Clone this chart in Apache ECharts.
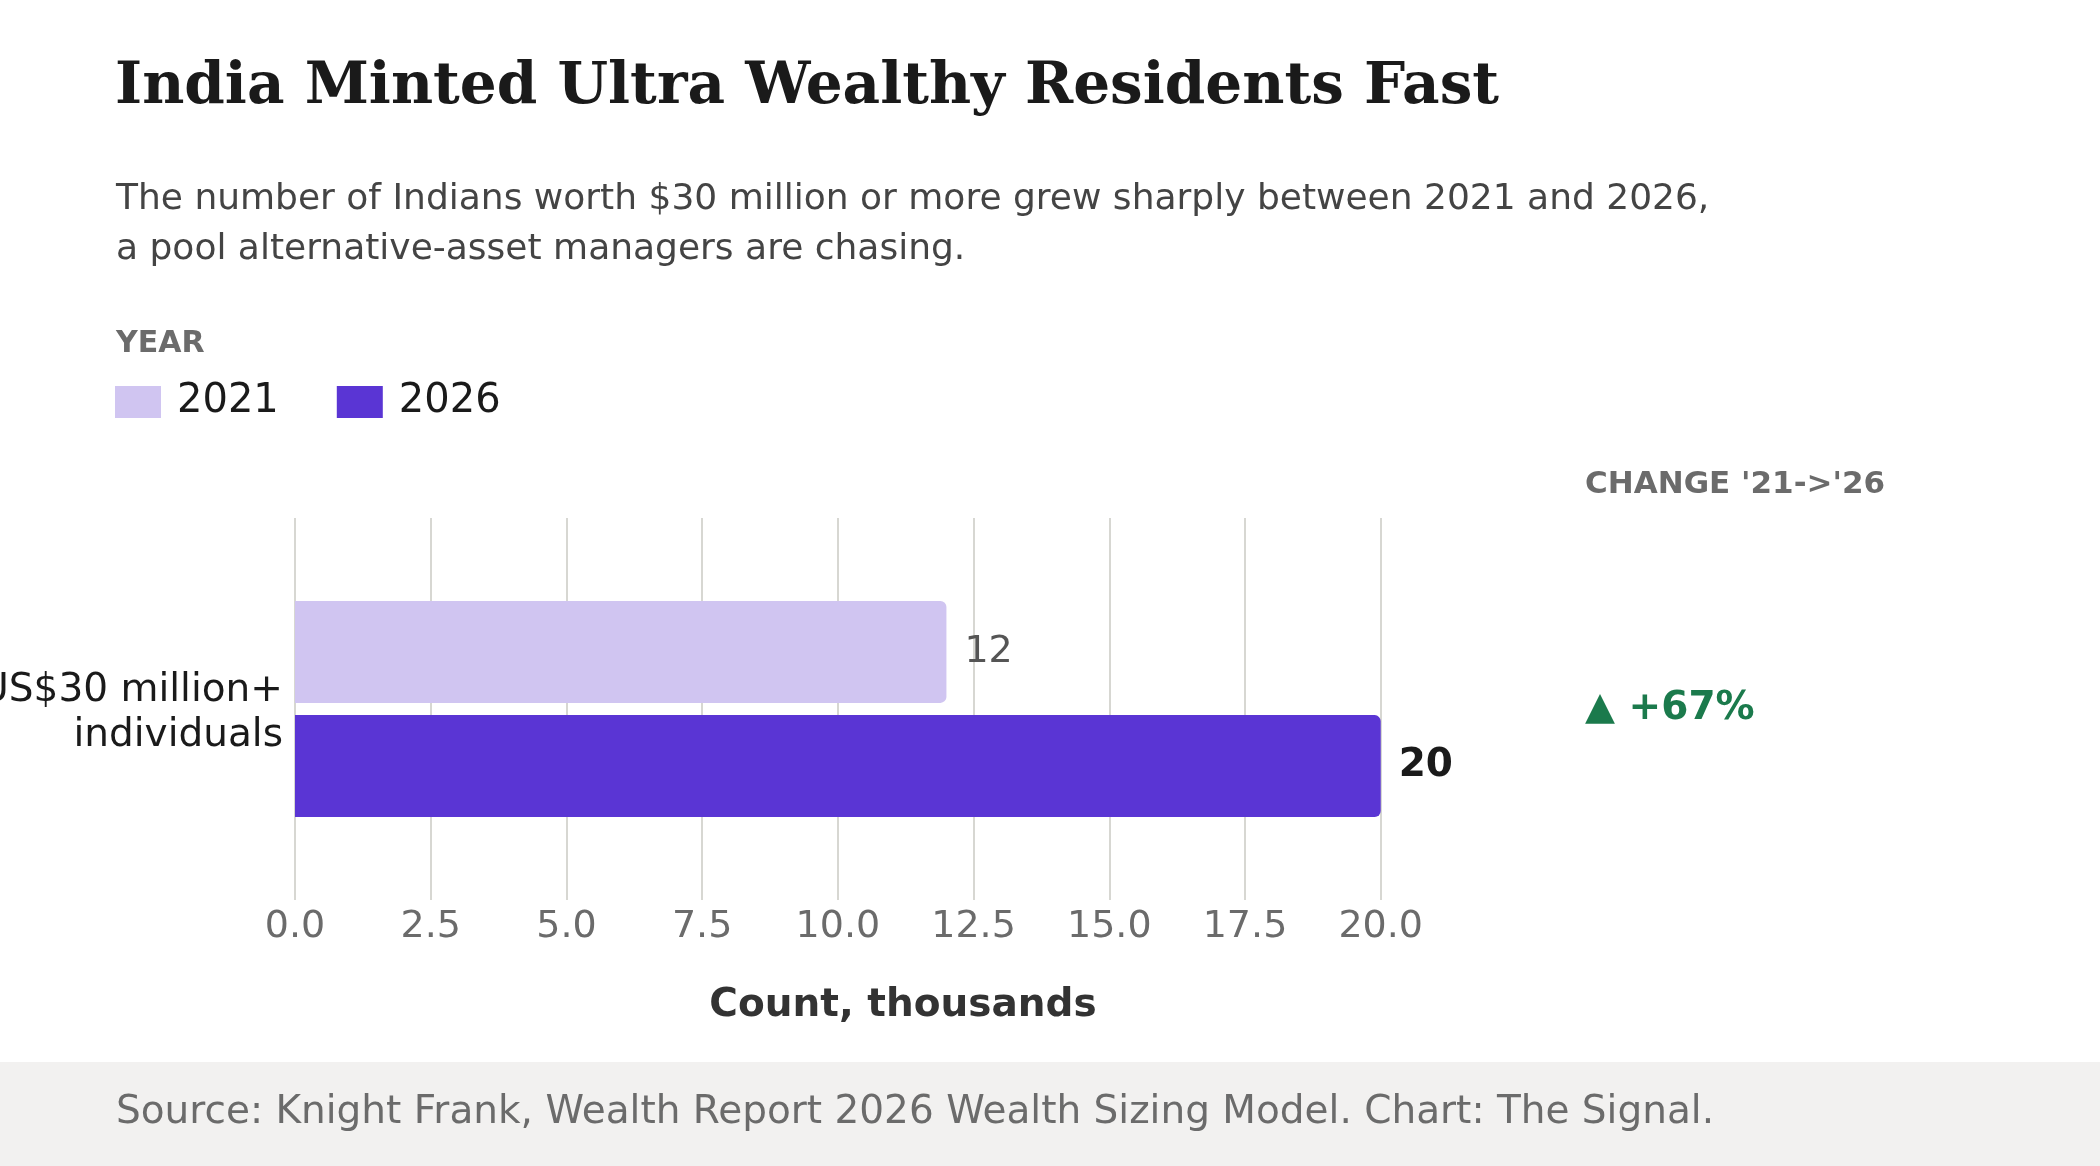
<!DOCTYPE html>
<html>
<head>
<meta charset="utf-8">
<script src="https://cdn.jsdelivr.net/npm/echarts@6/dist/echarts.min.js"></script>
<style>
  html, body { margin: 0; padding: 0; background: #fff; }
  #chart { width: 2100px; height: 1166px; }
</style>
</head>
<body>
<div id="chart"></div>
<script>
// chart values
const categories = ['US$30 million+\nindividuals'];
const years = ['2021', '2026'];
const values2021 = [12];
const values2026 = [20];
const axisMax = 22.4;
const tickStep = 2.5;

const SANS = 'DejaVu Sans';
const SERIF = 'DejaVu Serif';
const colors = { y2021: '#d0c5f1', y2026: '#5a35d4', grid: '#d7d7d2', up: '#1b7a4c' };

// change between the two years, in percent
const changePct = Math.round((values2026[0] - values2021[0]) / values2021[0] * 100);

const chart = echarts.init(document.getElementById('chart'));

const option = {
  backgroundColor: '#fff',
  animation: false,
  textStyle: { fontFamily: SANS },
  legend: {
    data: years,
    left: 115,
    top: 382,
    padding: 0,
    icon: 'rect',
    itemWidth: 46,
    itemHeight: 32,
    itemGap: 58,
    textStyle: { fontFamily: SANS, fontSize: 40, color: '#1a1a1a', padding: [0, 0, 0, 11] },
  },
  grid: { left: 295, right: 589, top: 518, bottom: 266, containLabel: false, outerBoundsMode: 'none' },
  xAxis: {
    type: 'value',
    min: 0,
    max: axisMax,
    interval: tickStep,
    axisLine: { show: false },
    axisTick: { show: false },
    axisLabel: {
      fontFamily: SANS, fontSize: 38, color: '#6b6b6b', margin: 8,
      showMaxLabel: false,
      formatter: (v) => v.toFixed(1),
    },
    splitLine: { show: true, showMaxLine: false, lineStyle: { color: colors.grid, width: 2 } },
    name: 'Count, thousands',
    nameLocation: 'middle',
    nameGap: 86,
    nameTextStyle: { fontFamily: SANS, fontSize: 39, fontWeight: 'bold', color: '#333' },
  },
  yAxis: {
    type: 'category',
    data: categories,
    axisLine: { show: false },
    axisTick: { show: false },
    axisLabel: {
      fontFamily: SANS, fontSize: 39, color: '#1a1a1a', margin: 12,
      // first line a bit taller so the pair sits slightly lower
      formatter: (v) => {
        const lines = v.split('\n');
        return lines.map((s, i) => (i === 0 ? '{t|' : '{b|') + s + '}').join('\n');
      },
      rich: {
        t: { fontFamily: SANS, fontSize: 39, color: '#1a1a1a', lineHeight: 54, padding: [9, 0, 0, 0], align: 'right' },
        b: { fontFamily: SANS, fontSize: 39, color: '#1a1a1a', lineHeight: 45, align: 'right' },
      },
    },
  },
  series: [
    {
      name: years[0],
      type: 'bar',
      data: values2021,
      barWidth: 102,
      barGap: '12%',
      itemStyle: { color: colors.y2021, borderRadius: [0, 6, 6, 0] },
      label: {
        show: true, position: 'right', distance: 18,
        fontFamily: SANS, fontSize: 38, color: '#555',
      },
    },
    {
      name: years[1],
      type: 'bar',
      data: values2026,
      barWidth: 102,
      barGap: '12%',
      itemStyle: { color: colors.y2026, borderRadius: [0, 6, 6, 0] },
      label: {
        show: true, position: 'right', distance: 18,
        fontFamily: SANS, fontSize: 39, fontWeight: 'bold', color: '#1a1a1a',
      },
    },
  ],
};

chart.setOption(option);

// annotation column sits on the category's centre line
const catY = chart.convertToPixel({ yAxisIndex: 0 }, categories[0]);

chart.setOption({
  graphic: [
    { type: 'rect', left: 0, top: 1062, shape: { width: 2100, height: 104 }, style: { fill: '#f2f1f0' }, silent: true },
    { type: 'text', x: 115, y: 88, style: { text: 'India Minted Ultra Wealthy Residents Fast', font: 'bold 58px "' + SERIF + '"', fill: '#1a1a1a', verticalAlign: 'middle' } },
    { type: 'text', x: 116, y: 175, style: { text: 'The number of Indians worth $30 million or more grew sharply between 2021 and 2026,\na pool alternative-asset managers are chasing.', font: '36px "' + SANS + '"', fill: '#444', lineHeight: 50, verticalAlign: 'top' } },
    { type: 'text', x: 116, y: 344, style: { text: 'YEAR', font: 'bold 30px "' + SANS + '"', fill: '#6b6b6b', verticalAlign: 'middle' } },
    { type: 'text', x: 1585, y: 485, style: { text: "CHANGE '21->'26", font: 'bold 31px "' + SANS + '"', fill: '#6b6b6b', verticalAlign: 'middle' } },
    { type: 'text', x: 1585, y: catY, style: { text: '▲ +' + changePct + '%', font: 'bold 39px "' + SANS + '"', fill: colors.up, verticalAlign: 'middle' } },
    { type: 'text', x: 116, y: 1113, style: { text: 'Source: Knight Frank, Wealth Report 2026 Wealth Sizing Model. Chart: The Signal.', font: '39px "' + SANS + '"', fill: '#6b6b6b', verticalAlign: 'middle' } },
  ],
});

window.addEventListener('resize', () => chart.resize());
</script>
</body>
</html>
